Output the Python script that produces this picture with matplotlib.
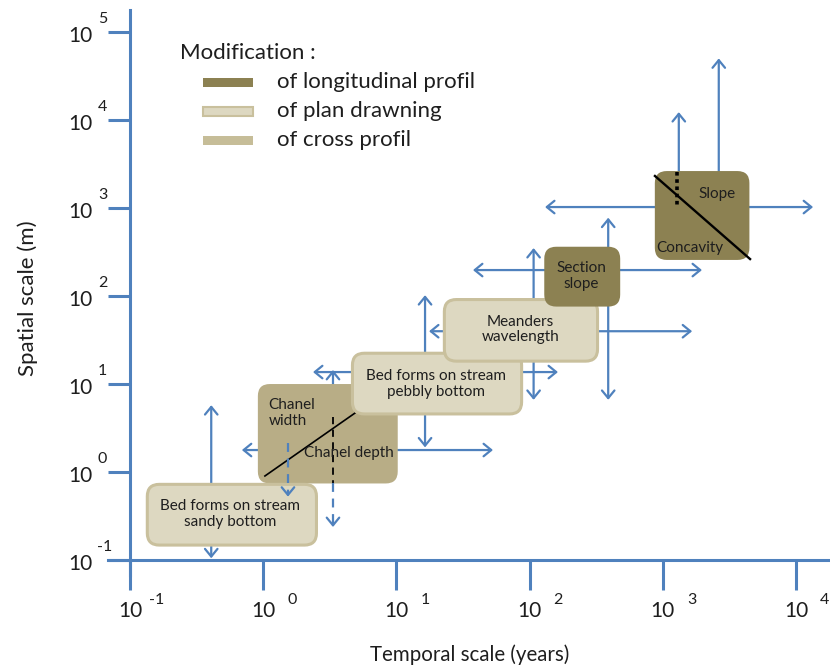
import matplotlib.pyplot as plt
from matplotlib.patches import FancyBboxPatch, Rectangle
from matplotlib.transforms import ScaledTranslation

plt.rcParams['font.family'] = ['Lato', 'DejaVu Sans']

blue = '#4f81bd'
dark = '#8c8152'
medium = '#c6bd98'
chanel_fill = '#b8ad86'
light = '#ddd8c1'
light_edge = '#c9c09d'
txt = '#1e1e1e'

# axis decades (log10 of years / metres)
x_decades = [-1, 0, 1, 2, 3, 4]
y_decades = [-1, 0, 1, 2, 3, 4, 5]

# boxes, log10 extents, in drawing order
box_kind = ['cross', 'plan', 'plan', 'plan', 'long', 'long']
box_x0 = [-0.04, -0.87, 0.67, 1.36, 2.11, 2.94]
box_x1 = [1.01, 0.40, 1.94, 2.51, 2.68, 3.65]
box_y0 = [-0.13, -0.83, 0.66, 1.26, 1.88, 2.41]
box_y1 = [1.00, -0.14, 1.35, 1.96, 2.56, 3.42]

# box texts
labels = ['Bed forms on stream\nsandy bottom', 'Chanel depth',
          'Bed forms on stream\npebbly bottom', 'Meanders\nwavelength',
          'Section\nslope', 'Slope', 'Concavity']
label_x = [-0.25, 0.64, 1.30, 1.93, 2.39, 3.41, 3.20]
label_y = [-0.48, 0.22, 1.00, 1.62, 2.23, 3.16, 2.55]
width_lbl = 'Chanel\nwidth'
width_xy = (0.04, 0.67)

# range arrows (log10): vertical (x, y_from, y_to), horizontal (y, x_from, x_to)
v_arrows = [(-0.39, -0.98, 0.76), (1.215, 0.28, 2.01), (2.03, 0.82, 2.545),
            (2.59, 0.82, 2.89)]
v_up = [(3.12, 3.20, 4.09), (3.42, 3.09, 4.70), (0.524, 0.48, 1.16)]
h_arrows = [(0.25, -0.16, 1.725), (1.136, 0.374, 2.213), (1.60, 1.245, 3.22),
            (2.295, 1.575, 3.294), (3.011, 2.116, 4.128)]
dashed_down = [(0.186, 0.33, -0.28), (0.524, -0.125, -0.625)]

W, H = 830, 668
fig = plt.figure(figsize=(W / 100, H / 100), dpi=100)
ax = fig.add_axes([108 / W, 93 / H, 722 / W, 565 / H])
ax.set_xlim(-1.165, 4.255)
ax.set_ylim(-1.17, 5.25)

for s in ['top', 'right']:
    ax.spines[s].set_visible(False)
for s in ['left', 'bottom']:
    ax.spines[s].set_position(('data', -1))
    ax.spines[s].set_color(blue)
    ax.spines[s].set_linewidth(2.2)

ax.set_xticks(x_decades)
ax.set_xticklabels(['10'] * len(x_decades))
ax.set_yticks(y_decades)
ax.set_yticklabels(['10'] * len(y_decades))
ax.tick_params(axis='x', direction='out', length=21.6, width=2.2, color=blue,
               pad=8, labelsize=15, labelcolor=txt)
ax.tick_params(axis='y', direction='out', length=15.8, width=2.2, color=blue,
               pad=11, labelsize=15, labelcolor=txt)
down = ScaledTranslation(0, -0.04, fig.dpi_scale_trans)
for lab in ax.get_yticklabels():
    lab.set_verticalalignment('center')
    lab.set_transform(lab.get_transform() + down)

# exponents of the tick labels
for d in x_decades:
    ax.annotate(str(d), xy=(d, -1), xytext=(19 if d < 0 else 24, -40),
                textcoords='offset pixels', ha='left', va='center',
                fontsize=11.5, color=txt, annotation_clip=False)
for d in y_decades:
    ax.annotate(str(d), xy=(-1, d), xytext=(-33 if d < 0 else -32, 13),
                textcoords='offset pixels', ha='left', va='center',
                fontsize=11.5, color=txt, annotation_clip=False)

hd = ',head_length=0.55,head_width=0.45'


def arrow(p0, p1, style, color=blue, z=1):
    ax.annotate('', xy=p1, xytext=p0, zorder=z,
                arrowprops=dict(arrowstyle=style + hd, color=color, lw=1.6,
                                shrinkA=0, shrinkB=0))


for x, a, b in v_arrows:
    arrow((x, a), (x, b), '<->')
for x, a, b in v_up:
    arrow((x, a), (x, b), '->')
for y, a, b in h_arrows:
    arrow((a, y), (b, y), '<->')

fills = {'cross': chanel_fill, 'plan': light, 'long': dark}
for i in range(len(box_kind)):
    k = box_kind[i]
    ec = light_edge if k == 'plan' else 'none'
    p = FancyBboxPatch((box_x0[i], box_y0[i]), box_x1[i] - box_x0[i],
                       box_y1[i] - box_y0[i],
                       boxstyle='round,pad=0,rounding_size=0.09',
                       mutation_aspect=1.51, fc=fills[k], ec=ec, lw=2.2,
                       zorder=2 + i)
    ax.add_patch(p)
    if i == 0:
        # chanel width / depth split
        ax.plot([0.013, 0.689], [-0.045, 0.67], color='k', lw=1.2, zorder=2.5)
        ax.plot([0.524, 0.524], [0.625, -0.125], color='k', lw=1.3,
                ls=(0, (4, 3)), zorder=2.5)

# slope / concavity split
ax.plot([2.941, 3.655], [3.364, 2.42], color='k', lw=1.7, zorder=9)
ax.plot([3.107, 3.107], [3.409, 3.023], color='k', lw=2.6, ls=(0, (1, 1)),
        zorder=9)

# dashed downward arrows
for x, a, b in dashed_down:
    ax.plot([x, x], [a, b + 0.05], color=blue, lw=1.6, ls=(0, (4, 3)),
            zorder=10)
    arrow((x, b + 0.06), (x, b), '->', z=10)

for s, x, y in zip(labels, label_x, label_y):
    ax.text(x, y, s, ha='center', va='center', fontsize=11, color=txt,
            zorder=11, linespacing=1.15)
ax.text(width_xy[0], width_xy[1], width_lbl, ha='left', va='center',
        fontsize=11, color=txt, zorder=11, linespacing=1.15)

# legend
fig.text(180 / W, 1 - 53 / H, 'Modification :', ha='left', va='center',
         fontsize=16, color=txt)
leg_labels = ['of longitudinal profil', 'of plan drawning', 'of cross profil']
leg_fc = [dark, light, medium]
leg_ec = ['none', light_edge, 'none']
for j, (t, fc, ec) in enumerate(zip(leg_labels, leg_fc, leg_ec)):
    yc = 82 + 29 * j
    fig.patches.append(Rectangle((203 / W, 1 - (yc + 4.5) / H), 50 / W, 9 / H,
                                 transform=fig.transFigure, fc=fc, ec=ec,
                                 lw=1.5))
    fig.text(277 / W, 1 - yc / H, t, ha='left', va='center', fontsize=16,
             color=txt)

fig.text(470 / W, 1 - 655 / H, 'Temporal scale (years)', ha='center',
         va='center', fontsize=14.8, color=txt)
fig.text(28 / W, 1 - 298 / H, 'Spatial scale (m)', ha='center', va='center',
         rotation=90, fontsize=16, color=txt)

fig.savefig('out.png', dpi=100, facecolor='white')
